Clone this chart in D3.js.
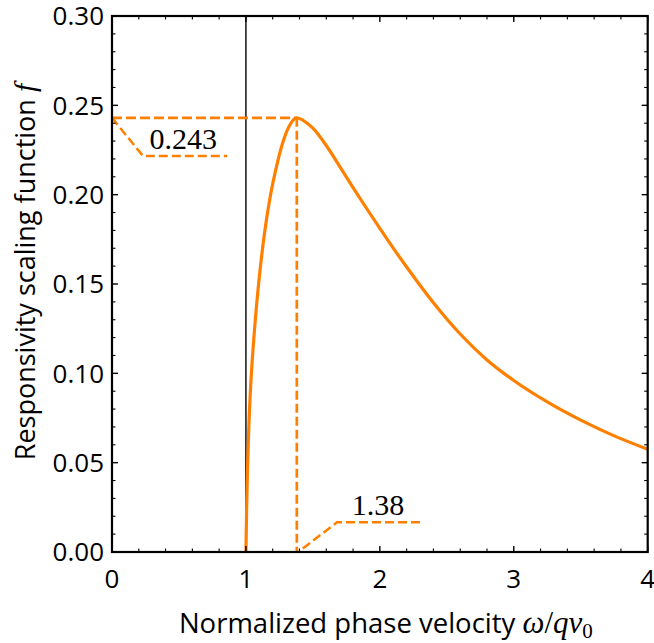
<!DOCTYPE html>
<html>
<head>
<meta charset="utf-8">
<script src="https://cdn.jsdelivr.net/npm/d3@7"></script>
<style>
  body { margin: 0; background: #fff; }
  .tick-label { font-family: "Open Sans", sans-serif; font-size: 26px; fill: #000; }
  .axis-title { font-family: "Open Sans", sans-serif; fill: #000; }
  .math { font-family: "Liberation Serif", serif; font-style: italic; }
  .num { font-family: "Liberation Serif", serif; font-size: 30px; fill: #000; }
</style>
</head>
<body>
<div id="chart"></div>
<script>
// axis ticks
const xTicks = [0, 1, 2, 3, 4];
const yTicks = [0, 0.05, 0.10, 0.15, 0.20, 0.25, 0.30];

// responsivity scaling function
const curveV = [1.000, 1.005, 1.012, 1.022, 1.035, 1.050, 1.070, 1.100, 1.140, 1.180, 1.230, 1.280, 1.330, 1.380,
  1.43, 1.50, 1.60, 1.70, 1.80, 1.90, 2.00, 2.10, 2.20, 2.40, 2.60, 2.80, 3.00, 3.25, 3.50, 3.75, 4.00];
const curveF = [0.0000, 0.0230, 0.0468, 0.0708, 0.0923, 0.1103, 0.1299, 0.1539, 0.1791, 0.1983, 0.2163, 0.2303, 0.2393, 0.2430,
  0.2415, 0.2372, 0.2275, 0.2158, 0.2040, 0.1924, 0.1811, 0.1701, 0.1595, 0.1395, 0.1220, 0.1075, 0.0960, 0.0840, 0.0738, 0.0650, 0.0575];

// peak and its labels
const peakV = 1.38;
const peakF = 0.243;
const peakLeader = [[0, 0.243], [0.232, 0.2216], [0.86, 0.2216]];
const velLeader = [[1.425, 0.002], [1.68, 0.0166], [2.315, 0.0166]];

const W = 654, H = 643;
const margin = {top: 16, right: 6.3, bottom: 91, left: 112};
const width = W - margin.left - margin.right;
const height = H - margin.top - margin.bottom;
const orange = "#ff8000";

const svg = d3.select("#chart").append("svg")
  .attr("width", W)
  .attr("height", H);

const g = svg.append("g")
  .attr("transform", `translate(${margin.left},${margin.top})`);

const x = d3.scaleLinear().domain([0, 4]).range([0, width]);
const y = d3.scaleLinear().domain([0, 0.30]).range([height, 0]);

// black vertical line at 1
g.append("line")
  .attr("x1", x(1)).attr("x2", x(1))
  .attr("y1", 0).attr("y2", height)
  .attr("stroke", "#000")
  .attr("stroke-width", 1.4);

const line = d3.line()
  .x(d => x(d[0]))
  .y(d => y(d[1]));

// dashed guides to the peak
g.append("path")
  .attr("d", line([[0, peakF], [peakV, peakF]]))
  .attr("fill", "none").attr("stroke", orange)
  .attr("stroke-width", 2.7).attr("stroke-dasharray", "10,4");
g.append("path")
  .attr("d", line([[peakV, peakF], [peakV, 0]]))
  .attr("fill", "none").attr("stroke", orange)
  .attr("stroke-width", 2.7).attr("stroke-dasharray", "9,4");

[peakLeader, velLeader].forEach(pts => {
  g.append("path")
    .attr("d", line(pts))
    .attr("fill", "none").attr("stroke", orange)
    .attr("stroke-width", 2.5).attr("stroke-dasharray", "9,4");
});

g.append("text")
  .attr("class", "num")
  .attr("x", x(0.28)).attr("y", y(0.2255))
  .text("0.243");
g.append("text")
  .attr("class", "num")
  .attr("x", x(1.79)).attr("y", y(0.0207))
  .text("1.38");

// the curve
const curveData = curveV.map((v, i) => [v, curveF[i]]);
g.append("path")
  .datum(curveData)
  .attr("fill", "none")
  .attr("stroke", orange)
  .attr("stroke-width", 3.2)
  .attr("d", d3.line().curve(d3.curveMonotoneX).x(d => x(d[0])).y(d => y(d[1])));

// frame
g.append("rect")
  .attr("width", width).attr("height", height)
  .attr("fill", "none").attr("stroke", "#000").attr("stroke-width", 2.2);

// ticks on all four sides, pointing inwards
const xMinor = d3.range(0, 4.0001, 0.2).filter(v => Math.abs(v - Math.round(v)) > 1e-6);
const yMinor = d3.range(0, 0.3001, 0.01).filter(v => Math.abs(v * 20 - Math.round(v * 20)) > 1e-6);
const tickG = g.append("g").attr("stroke", "#000");
const addX = (vals, len, w) => vals.forEach(v => {
  tickG.append("line").attr("x1", x(v)).attr("x2", x(v)).attr("y1", height).attr("y2", height - len).attr("stroke-width", w);
  tickG.append("line").attr("x1", x(v)).attr("x2", x(v)).attr("y1", 0).attr("y2", len).attr("stroke-width", w);
});
const addY = (vals, len, w) => vals.forEach(v => {
  tickG.append("line").attr("y1", y(v)).attr("y2", y(v)).attr("x1", 0).attr("x2", len).attr("stroke-width", w);
  tickG.append("line").attr("y1", y(v)).attr("y2", y(v)).attr("x1", width).attr("x2", width - len).attr("stroke-width", w);
});
addX(xTicks, 6, 1.4);
addX(xMinor, 3.5, 1.1);
addY(yTicks, 6, 1.4);
addY(yMinor, 3.5, 1.1);

// tick labels
g.selectAll(".xlab").data(xTicks).enter().append("text")
  .attr("class", "tick-label")
  .attr("x", d => x(d)).attr("y", height + 36)
  .attr("text-anchor", "middle")
  .text(d => d);
g.selectAll(".ylab").data(yTicks).enter().append("text")
  .attr("class", "tick-label")
  .attr("x", -8).attr("y", d => y(d) + 9.3)
  .attr("text-anchor", "end")
  .text(d => d3.format(".2f")(d));

// axis titles
const xt = svg.append("text")
  .attr("class", "axis-title")
  .attr("font-size", 27.5)
  .attr("x", margin.left + width / 2 + 6).attr("y", 633)
  .attr("text-anchor", "middle");
xt.append("tspan").text("Normalized phase velocity ");
const xm = xt.append("tspan").attr("class", "math").attr("font-size", 31);
xm.append("tspan").text("ω");
xm.append("tspan").attr("font-style", "normal").text("/");
xm.append("tspan").text("qv");
xm.append("tspan").attr("font-style", "normal").attr("font-size", 21).attr("dy", 5).text("0");

const yt = svg.append("text")
  .attr("class", "axis-title")
  .attr("font-size", 27)
  .attr("transform", `translate(35, ${margin.top + height / 2 - 12}) rotate(-90)`)
  .attr("text-anchor", "middle");
yt.append("tspan").text("Responsivity scaling function ");
yt.append("tspan").attr("class", "math").attr("font-size", 30).text("f");
</script>
</body>
</html>
